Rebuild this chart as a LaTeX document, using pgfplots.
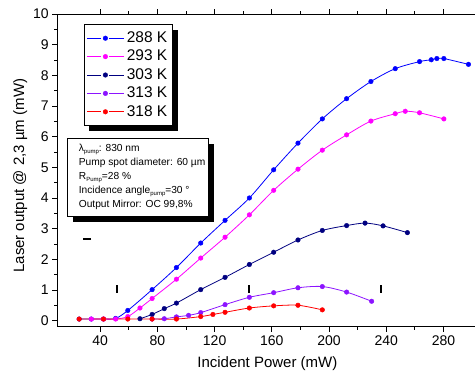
\documentclass[border=0pt]{standalone}
\usepackage{fontspec}
\setmainfont{Liberation Sans}
\usepackage{pgfplots}
\pgfplotsset{compat=1.18}
\usetikzlibrary{shadows,backgrounds}
\definecolor{cblue}{RGB}{0,0,255}
\definecolor{cmag}{RGB}{255,0,255}
\definecolor{cnavy}{RGB}{0,0,128}
\definecolor{cviol}{RGB}{140,20,255}
\definecolor{cred}{RGB}{255,0,0}
\newcommand{\sub}[1]{\raisebox{-2pt}{\fontsize{6}{6}\selectfont #1}}
\begin{document}
\begin{tikzpicture}
\begin{axis}[
  scale only axis, width=417.6pt, height=312.6pt,
  xmin=10, xmax=302, ymin=-0.2, ymax=10,
  axis x line=box, axis y line=left,
  axis line style={line width=0.8pt,-},
  xtick={40,80,...,280}, minor x tick num=1,
  ytick={0,1,...,10}, minor y tick num=1,
  tick align=outside, major tick length=5pt, minor tick length=3pt,
  tick style={black, line width=0.8pt},
  /pgf/number format/assume math mode=true,
  tick label style={font=\fontsize{14}{16}\selectfont},
  xlabel={Incident Power (mW)},
  ylabel={Laser output @ 2,3 µm (mW)},
  label style={font=\fontsize{15}{18}\selectfont},
  x label style={at={(axis description cs:0.503,-0.119)},anchor=center},
  y label style={at={(axis description cs:-0.0886,0.483)},anchor=center},
  every axis plot/.append style={line width=0.8pt, mark=*, mark size=2.3pt, mark options={line width=0.4pt}, smooth},
  legend cell align=left,
  legend image code/.code={%
    \draw[#1,mark=none] (0pt,0pt) -- (14pt,0pt);
    \draw[#1,mark=none] (22pt,0pt) -- (37pt,0pt);
    \draw[#1,draw=none] plot coordinates {(18pt,0pt)};},
  legend style={name=leg, at={(0.063,0.968)}, anchor=north west, draw=black, line width=0.8pt, fill=white,
    font=\fontsize{15.5}{18}\selectfont, inner xsep=3pt, inner ysep=4.5pt,
    nodes={inner sep=2pt, text height=11.4pt, text depth=3pt}},
]
\addplot[color=cblue] coordinates {
(25.3,0.05)(33.8,0.05)(42.3,0.05)(50.8,0.07)(59.3,0.33)(76.3,1.01)(93.3,1.73)(110.3,2.53)(127.3,3.27)(144.3,4.0)(161.3,4.92)(178.3,5.79)(195.3,6.58)(212.3,7.24)(229.3,7.80)(246.3,8.22)(263.3,8.45)(271.5,8.51)(275.4,8.55)(280.3,8.55)(297.5,8.36)};
\addlegendentry{288 K}
\addplot[color=cmag] coordinates {
(33.8,0.05)(42.3,0.05)(50.8,0.05)(59.3,0.13)(67.8,0.41)(76.3,0.72)(93.3,1.35)(110.3,2.04)(127.3,2.72)(144.3,3.45)(161.3,4.25)(178.3,4.94)(195.3,5.56)(212.3,6.06)(229.3,6.51)(246.3,6.75)(253.3,6.83)(263.3,6.78)(280.3,6.58)};
\addlegendentry{293 K}
\addplot[color=cnavy] coordinates {
(67.8,0.06)(76.3,0.2)(84.8,0.39)(93.3,0.57)(110.3,1.01)(127.3,1.41)(144.3,1.83)(161.3,2.23)(178.3,2.63)(195.3,2.94)(212.3,3.10)(225.2,3.18)(237.8,3.09)(254.8,2.87)};
\addlegendentry{303 K}
\addplot[color=cviol] coordinates {
(76.3,0.05)(84.8,0.06)(93.3,0.12)(101.8,0.17)(110.3,0.26)(127.3,0.52)(144.3,0.76)(161.3,0.91)(178.3,1.07)(195.3,1.11)(212.3,0.93)(229.8,0.63)};
\addlegendentry{313 K}
\addplot[color=cred] coordinates {
(25.3,0.05)(42.3,0.05)(59.3,0.05)(76.3,0.05)(93.3,0.05)(110.3,0.13)(118.8,0.2)(127.3,0.27)(144.3,0.41)(161.3,0.48)(178.3,0.5)(195.3,0.35)};
\addlegendentry{318 K}
\addplot[forget plot, only marks, mark=|, mark size=4pt, mark options={line width=1.6pt}, line width=1.6pt, black] coordinates {(51.7,1.02)(144.2,1.02)(236.5,1.02)};
\addplot[forget plot, only marks, mark=-, mark size=4pt, mark options={line width=1.8pt}, line width=1.8pt, black] coordinates {(30.9,2.65)};
\node[draw=black, line width=0.8pt, fill=white, anchor=north west, align=left,
  inner xsep=3pt, inner ysep=6pt, font=\fontsize{10.2}{14}\selectfont,
  drop shadow={shadow xshift=5.5pt, shadow yshift=-5.5pt, fill=black, opacity=1}]
  at (rel axis cs:0.0232,0.6033) {%
\hspace*{8.5pt}λ\sub{pump}: 830 nm\\
\hspace*{8.5pt}Pump spot diameter: 60 µm\\
\hspace*{8.5pt}R\sub{Pump}=28 \%\\
\hspace*{8.5pt}Incidence angle\sub{pump}=30 °\\
\hspace*{8.5pt}Output Mirror: OC 99,8\%};
\end{axis}
\begin{scope}[on background layer]
\fill[black] ([shift={(5.5pt,-5.5pt)}]leg.south west) rectangle ([shift={(5.5pt,-5.5pt)}]leg.north east);
\end{scope}
\pgfresetboundingbox
\path (-57.3pt,-49.3pt) rectangle (417.7pt,326.7pt);
\end{tikzpicture}
\end{document}
